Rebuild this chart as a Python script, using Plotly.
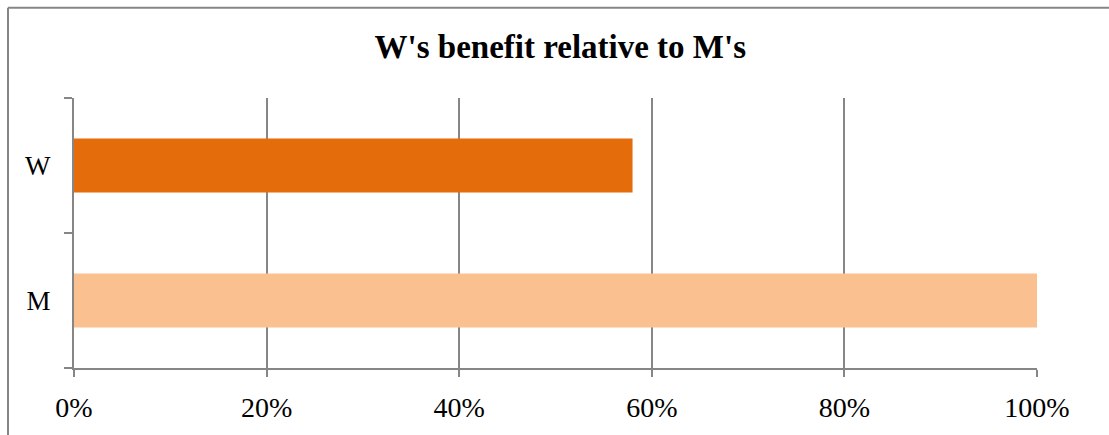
import plotly.graph_objects as go

# Chart data
categories = ["M", "W"]
values = [1.00, 0.58]
bar_colors = ["#FAC090", "#E46C0A"]
x_tick_vals = [0, 0.2, 0.4, 0.6, 0.8, 1.0]
x_tick_text = ["0%", "20%", "40%", "60%", "80%", "100%"]
title_text = "W's benefit relative to M's"

W, H = 1109, 435
L, R, T, B = 74, 72, 98, 65
grid_color = "#868686"
font_family = "Liberation Serif, DejaVu Serif, serif"

fig = go.Figure(
    go.Bar(
        x=values,
        y=categories,
        orientation="h",
        marker=dict(color=bar_colors, line=dict(width=0)),
        hoverinfo="skip",
    )
)

plot_w = W - L - R
plot_h = H - T - B
# outer chart frame (top and left edges)
fx = (8 - L) / plot_w
fy = 1 + (T - 7) / plot_h
fy_bot = -(B + 5) / plot_h
fx_right = 1 + (R + 5) / plot_w
fig.add_shape(type="line", xref="paper", yref="paper", x0=fx, x1=fx, y0=fy_bot, y1=fy,
              line=dict(color=grid_color, width=2))
fig.add_shape(type="line", xref="paper", yref="paper", x0=fx, x1=fx_right, y0=fy, y1=fy,
              line=dict(color=grid_color, width=2))

fig.update_layout(
    width=W,
    height=H,
    margin=dict(l=L, r=R, t=T, b=B, pad=0),
    paper_bgcolor="white",
    plot_bgcolor="white",
    bargap=0.6,
    showlegend=False,
    title=dict(
        text=title_text,
        x=(560) / W,
        xref="paper",
        xanchor="center",
        y=1 - 46 / H,
        yanchor="middle",
        font=dict(family=font_family, size=33, color="#000000", weight="bold"),
    ),
    xaxis=dict(
        range=[0, 1.0],
        tickvals=x_tick_vals,
        ticktext=x_tick_text,
        showgrid=True,
        gridcolor=grid_color,
        gridwidth=2,
        showline=True,
        linecolor=grid_color,
        linewidth=2,
        ticks="outside",
        ticklen=7,
        tickwidth=2,
        tickcolor=grid_color,
        zeroline=False,
        tickfont=dict(family=font_family, size=28, color="#000000"),
        ticklabelstandoff=6,
        fixedrange=True,
    ),
    yaxis=dict(
        categoryorder="array",
        categoryarray=categories,
        showgrid=False,
        showline=True,
        linecolor=grid_color,
        linewidth=2,
        ticks="outside",
        tickson="boundaries",
        ticklen=8,
        tickwidth=2,
        tickcolor=grid_color,
        zeroline=False,
        tickfont=dict(family=font_family, size=27, color="#000000"),
        ticklabelstandoff=16,
        fixedrange=True,
    ),
)

fig.write_html("out.html", config={"displayModeBar": False})
